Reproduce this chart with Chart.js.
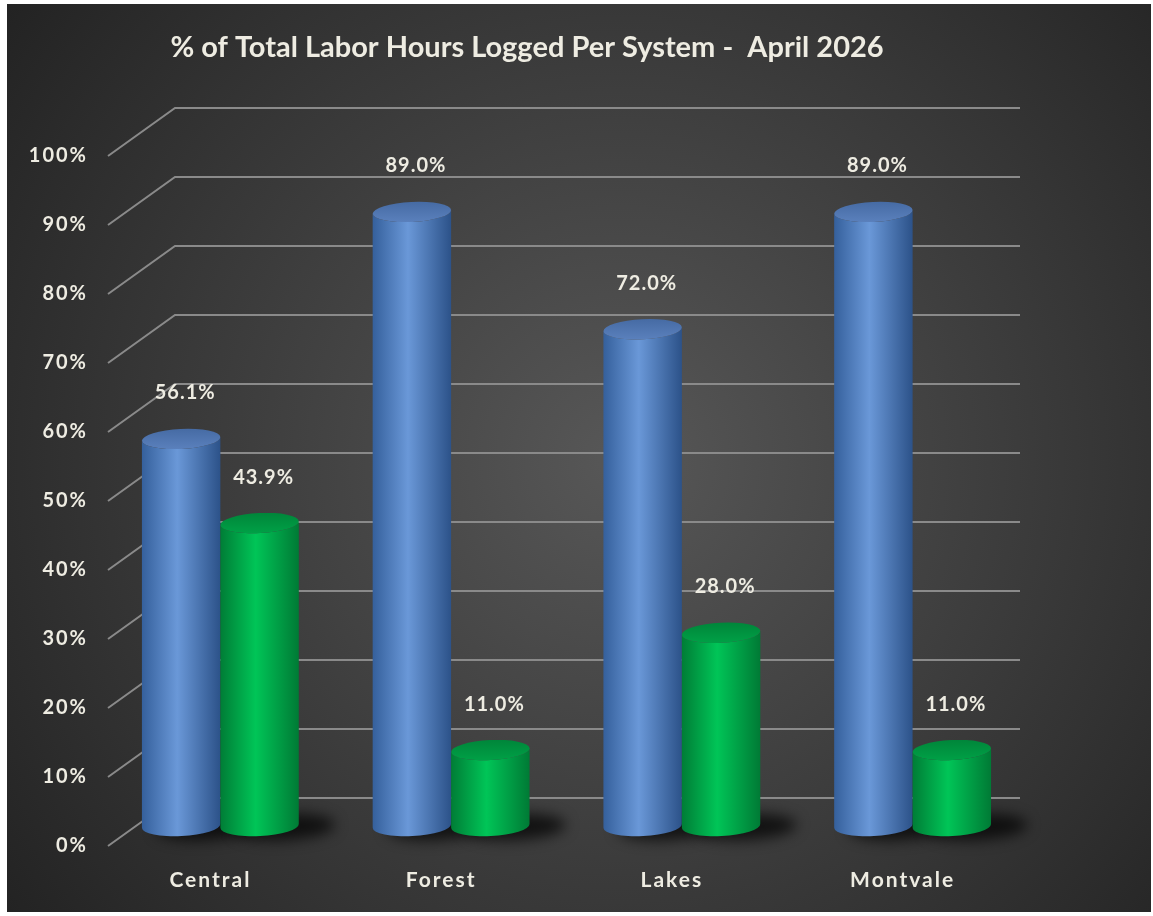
<!DOCTYPE html>
<html>
<head>
<meta charset="utf-8">
<script src="https://cdn.jsdelivr.net/npm/chart.js@4"></script>
<style>
  html, body { margin: 0; padding: 0; background: #fff; }
  canvas { display: block; }
</style>
</head>
<body>
<canvas id="laborChart" width="1153" height="916"></canvas>
<script>
// --- datos ---
const systems = ["Central", "Forest", "Lakes", "Montvale"];
const seriesBlue = [56.1, 89.0, 72.0, 89.0];
const seriesGreen = [43.9, 11.0, 28.0, 11.0];
const yTicks = [0, 10, 20, 30, 40, 50, 60, 70, 80, 90, 100];
const chartTitle = "% of Total Labor Hours Logged Per System -  April 2026";

const TEXT = "#eeece2";
const DEPTH_X = 67, DEPTH_Y = 48;   // fondo 3D
const BAR_SHIFT = 20;               // barras a media profundidad

const palettes = [
  { left: "#35609c", mid: "#6a98d8", right: "#2c5289", capA: "#466ba4", capB: "#5a80bc" },
  { left: "#007d36", mid: "#00c557", right: "#007a35", capA: "#00863a", capB: "#00a046" }
];

// fondo + título
const backgroundPlugin = {
  id: "bg",
  beforeDraw(chart) {
    const ctx = chart.ctx;
    ctx.save();
    ctx.fillStyle = "#ffffff";
    ctx.fillRect(0, 0, chart.width, chart.height);
    const g = ctx.createRadialGradient(620, 460, 20, 620, 460, 760);
    g.addColorStop(0, "#565656");
    g.addColorStop(0.55, "#3a3a3a");
    g.addColorStop(1, "#232323");
    ctx.fillStyle = g;
    ctx.fillRect(7, 4, 1144, 908);

    ctx.fillStyle = TEXT;
    ctx.font = "bold 29px Lato";
    ctx.textAlign = "center";
    ctx.textBaseline = "middle";
    ctx.fillText(chartTitle, 527, 48);
    ctx.restore();
    // espaciado de letras para los ejes
    ctx.letterSpacing = "2px";
  }
};

function drawCylinder(ctx, cx, top, bottom, w, p) {
  const rx = w / 2, ry = 10, rot = -0.05;
  const body = ctx.createLinearGradient(cx - rx, 0, cx + rx, 0);
  body.addColorStop(0, p.left);
  body.addColorStop(0.45, p.mid);
  body.addColorStop(1, p.right);
  ctx.beginPath();
  ctx.moveTo(cx - rx, top);
  ctx.lineTo(cx - rx, bottom);
  ctx.ellipse(cx, bottom, rx, ry, rot, Math.PI, 0, true);
  ctx.lineTo(cx + rx, top);
  ctx.ellipse(cx, top, rx, ry, rot, 0, Math.PI, false);
  ctx.closePath();
  ctx.fillStyle = body;
  ctx.fill();

  const cap = ctx.createLinearGradient(0, top - ry, 0, top + ry);
  cap.addColorStop(0, p.capA);
  cap.addColorStop(1, p.capB);
  ctx.beginPath();
  ctx.ellipse(cx, top, rx, ry, rot, 0, Math.PI * 2);
  ctx.fillStyle = cap;
  ctx.fill();
}

const cylinderPlugin = {
  id: "cylinders",
  beforeDatasetsDraw(chart) {
    const ctx = chart.ctx;
    const y = chart.scales.y;
    const left = chart.chartArea.left;
    ctx.save();
    ctx.letterSpacing = "0px";
    ctx.strokeStyle = "#8a8a8a";
    ctx.lineWidth = 2;
    yTicks.forEach(v => {
      const py = y.getPixelForValue(v);
      ctx.beginPath();
      ctx.moveTo(left + 3, py);
      ctx.lineTo(left + 3 + DEPTH_X, py - DEPTH_Y);
      ctx.lineTo(1020, py - DEPTH_Y);
      ctx.stroke();
    });
    ctx.restore();
  },
  afterDatasetsDraw(chart) {
    const ctx = chart.ctx;
    const metas = chart.data.datasets.map((d, i) => chart.getDatasetMeta(i));
    ctx.save();
    ctx.letterSpacing = "0px";

    // sombras
    ctx.filter = "blur(7px)";
    ctx.fillStyle = "rgba(0,0,0,0.7)";
    metas.forEach(meta => meta.data.forEach(el => {
      const bottom = el.base - BAR_SHIFT;
      ctx.beginPath();
      ctx.ellipse(el.x + el.width * 0.32, bottom + 1, el.width * 0.64, 13, -0.05, 0, Math.PI * 2);
      ctx.fill();
    }));
    ctx.filter = "none";

    // cilindros
    systems.forEach((s, j) => {
      metas.forEach((meta, i) => {
        const el = meta.data[j];
        drawCylinder(ctx, el.x, el.y - BAR_SHIFT, el.base - BAR_SHIFT, el.width, palettes[i]);
      });
    });

    // etiquetas
    ctx.fillStyle = TEXT;
    ctx.font = "bold 20px Lato";
    ctx.letterSpacing = "1px";
    ctx.textAlign = "center";
    ctx.textBaseline = "middle";
    metas.forEach((meta, i) => {
      const vals = chart.data.datasets[i].data;
      meta.data.forEach((el, j) => {
        ctx.fillText(vals[j].toFixed(1) + "%", el.x + 4, el.y - BAR_SHIFT - 46);
      });
    });
    ctx.restore();
  }
};

new Chart(document.getElementById("laborChart"), {
  type: "bar",
  data: {
    labels: systems,
    datasets: [
      { label: "Blue", data: seriesBlue, backgroundColor: "rgba(0,0,0,0)" },
      { label: "Green", data: seriesGreen, backgroundColor: "rgba(0,0,0,0)" }
    ]
  },
  options: {
    responsive: false,
    animation: false,
    categoryPercentage: 0.68,
    barPercentage: 1.0,
    layout: { padding: { left: 20, top: 156, right: 125, bottom: 24 } },
    plugins: {
      legend: { display: false },
      title: { display: false },
      tooltip: { enabled: false }
    },
    scales: {
      y: {
        min: 0,
        max: 100,
        ticks: {
          stepSize: 10,
          padding: 17,
          color: TEXT,
          font: { family: "Lato", size: 20, weight: "bold" },
          callback: v => v + "%"
        },
        grid: { display: false, drawTicks: false },
        border: { display: false },
        afterFit: s => { s.width = 85; }
      },
      x: {
        ticks: {
          padding: 22,
          labelOffset: -10,
          color: TEXT,
          font: { family: "Lato", size: 21, weight: "bold" }
        },
        grid: { display: false, drawTicks: false },
        border: { display: false },
        afterFit: s => { s.height = 46; }
      }
    }
  },
  plugins: [backgroundPlugin, cylinderPlugin]
});
</script>
</body>
</html>
